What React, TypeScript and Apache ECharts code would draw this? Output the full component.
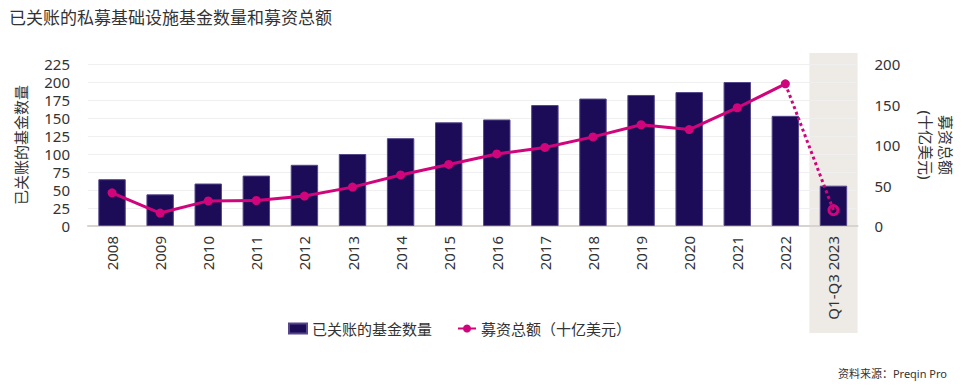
import React, { useEffect, useRef } from "react";
import * as echarts from "echarts";

const categories = ["2008", "2009", "2010", "2011", "2012", "2013", "2014", "2015", "2016", "2017", "2018", "2019", "2020", "2021", "2022", "Q1-Q3 2023"];
const fundCounts = [65, 44, 59, 70, 85, 100, 122, 144, 148, 168, 177, 182, 186, 200, 153, 56];
const capitalRaised = [41, 16, 31, 31.5, 37, 48, 63, 76, 89, 97, 110, 125, 119, 146, 175.5, 19.6];
const leftTicks = { min: 0, max: 225, interval: 25 };
const rightTicks = { min: 0, max: 200, interval: 50 };

const barName = "已关账的基金数量";
const lineName = "募资总额（十亿美元）";
const BAR = "#1c0b56";
const LINE = "#d1057b";
const FONT = "'Noto Sans', 'Noto Sans CJK SC', sans-serif";

export default function App() {
  const ref = useRef<HTMLDivElement>(null);
  useEffect(() => {
    if (!ref.current) return;
    const chart = echarts.init(ref.current, undefined, { renderer: "svg" });
    const lastIdx = categories.length - 1;
    const solidData = capitalRaised.map((v, i) => (i < lastIdx ? v : null));
    const dottedData = capitalRaised.map((v, i) => {
      if (i === lastIdx - 1) return { value: v, symbol: "none" };
      if (i === lastIdx)
        return {
          value: v,
          symbol: "circle",
          symbolSize: 9,
          itemStyle: { color: "rgba(0,0,0,0)", borderColor: LINE, borderWidth: 3 },
        };
      return null;
    });
    const option: any = {
      animation: false,
      textStyle: { fontFamily: FONT },
      title: [
        {
          text: "已关账的私募基础设施基金数量和募资总额",
          left: 4,
          top: 4,
          textStyle: { fontSize: 17, fontWeight: "normal", color: "#333", fontFamily: FONT },
        },
        {
          text: "资料来源：Preqin Pro",
          right: 28,
          bottom: 6,
          textStyle: { fontSize: 11, fontWeight: "normal", color: "#333", fontFamily: FONT },
        },
      ],
      grid: { left: 88, right: 122.5, top: 64, bottom: 164, containLabel: false },
      legend: {
        left: 283,
        top: 316,
        itemWidth: 18,
        itemHeight: 10,
        itemGap: 25,
        textStyle: { fontSize: 15, color: "#333", fontFamily: FONT },
        data: [{ name: barName, icon: "rect" }, { name: lineName }],
      },
      xAxis: {
        type: "category",
        data: categories,
        axisLine: { lineStyle: { color: "#d8d3ce", width: 2 } },
        axisTick: { show: false },
        axisLabel: { rotate: 90, fontSize: 15, color: "#333", margin: 10, fontFamily: FONT },
      },
      yAxis: [
        {
          type: "value",
          ...leftTicks,
          name: "已关账的基金数量",
          nameLocation: "middle",
          nameRotate: 90,
          nameGap: 60,
          nameTextStyle: { fontSize: 15, color: "#333", fontFamily: FONT },
          axisLabel: { fontSize: 15, color: "#333", margin: 18, fontFamily: FONT },
          axisLine: { show: false },
          axisTick: { show: false },
          splitLine: { lineStyle: { color: "#efefef", width: 1 } },
        },
        {
          type: "value",
          ...rightTicks,
          position: "right",
          name: "募资总额\n(十亿美元)",
          nameLocation: "middle",
          nameRotate: -90,
          nameGap: 58,
          nameTextStyle: { fontSize: 15, color: "#333", lineHeight: 20, fontFamily: FONT },
          axisLabel: { fontSize: 15, color: "#333", margin: 17, fontFamily: FONT },
          axisLine: { show: false },
          axisTick: { show: false },
          splitLine: { show: false },
        },
      ],
      series: [
        {
          name: barName,
          type: "bar",
          data: fundCounts,
          barWidth: "57%",
          itemStyle: { color: BAR, borderColor: "#54478a", borderWidth: 1 },
          z: 2,
        },
        {
          name: lineName,
          type: "line",
          yAxisIndex: 1,
          data: solidData,
          symbol: "circle",
          symbolSize: 9,
          lineStyle: { color: LINE, width: 3 },
          itemStyle: { color: LINE },
          z: 4,
        },
        {
          name: "dotted",
          type: "line",
          yAxisIndex: 1,
          data: dottedData,
          symbol: "circle",
          lineStyle: { color: LINE, width: 3, type: "dotted" },
          itemStyle: { color: LINE },
          z: 4,
        },
      ],
    };
    chart.setOption(option);
    const c1 = chart.convertToPixel({ xAxisIndex: 0 }, categories[lastIdx]) as number;
    const c0 = chart.convertToPixel({ xAxisIndex: 0 }, categories[lastIdx - 1]) as number;
    const yTop = chart.convertToPixel({ yAxisIndex: 0 }, leftTicks.max) as number;
    const yBase = chart.convertToPixel({ yAxisIndex: 0 }, 0) as number;
    const w = c1 - c0;
    chart.setOption({
      graphic: [
        {
          type: "rect",
          z: -10,
          silent: true,
          shape: { x: c1 - w / 2, y: yTop - 11, width: w, height: yBase - yTop + 11 + 107 },
          style: { fill: "#eeeae6" },
        },
      ],
    });
    return () => chart.dispose();
  }, []);
  return (
    <div
      ref={ref}
      style={{ position: "fixed", left: 0, top: 0, width: 980, height: 390, background: "#fff" }}
    />
  );
}
